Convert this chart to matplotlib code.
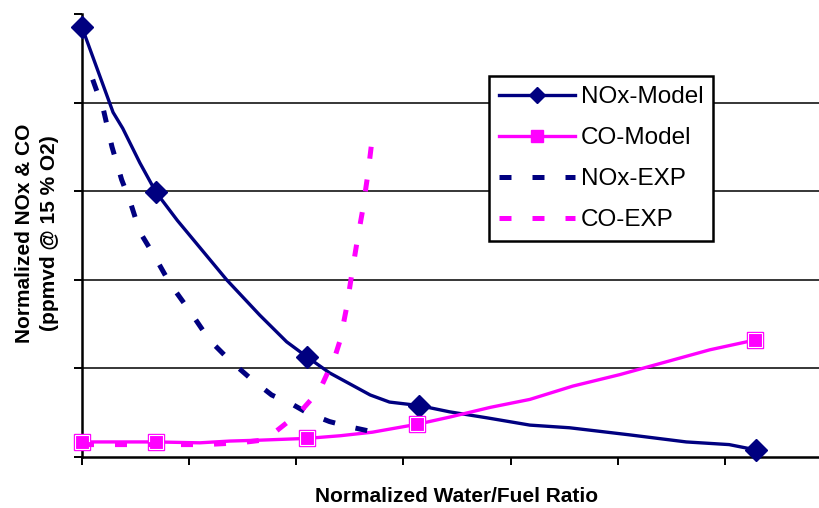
import matplotlib
matplotlib.use("Agg")
import matplotlib.pyplot as plt
from matplotlib.lines import Line2D

plt.rcParams['font.family'] = ['Liberation Sans', 'DejaVu Sans']

# ---------------- data (normalized units) ----------------
nox_model_x = [0.00, 0.29, 0.38, 0.54, 0.69, 0.89, 1.35, 1.66, 1.91, 2.10, 2.31, 2.69,
               2.87, 3.15, 3.43, 3.79, 4.18, 4.55, 5.11, 5.64, 6.04, 6.29]
nox_model_y = [4.85, 3.89, 3.71, 3.32, 2.99, 2.67, 2.00, 1.60, 1.30, 1.13, 0.95, 0.70,
               0.62, 0.58, 0.51, 0.44, 0.36, 0.33, 0.25, 0.17, 0.14, 0.08]
nox_model_markers = [0, 4, 9, 13, 21]

co_model_x = [0.00, 0.69, 1.10, 1.38, 1.66, 2.10, 2.41, 2.71, 3.13, 3.43, 3.81, 4.18,
              4.58, 5.02, 5.86, 6.28]
co_model_y = [0.17, 0.17, 0.16, 0.18, 0.19, 0.21, 0.24, 0.28, 0.37, 0.45, 0.56, 0.65,
              0.80, 0.93, 1.21, 1.32]
co_model_markers = [0, 1, 5, 8, 15]

nox_exp_x = [0.10, 0.20, 0.28, 0.37, 0.45, 0.54, 0.68, 0.82, 1.01, 1.19, 1.38, 1.57,
             1.77, 1.97, 2.10, 2.31, 2.50, 2.73]
nox_exp_y = [4.26, 3.92, 3.50, 3.13, 2.88, 2.54, 2.26, 1.96, 1.64, 1.32, 1.09, 0.89,
             0.70, 0.59, 0.50, 0.40, 0.34, 0.28]

co_exp_x = [0.00, 0.45, 1.15, 1.47, 1.68, 1.80, 2.03, 2.22, 2.36, 2.41, 2.47, 2.52,
            2.57, 2.62, 2.67, 2.71]
co_exp_y = [0.14, 0.14, 0.14, 0.16, 0.19, 0.28, 0.50, 0.76, 1.13, 1.32, 1.69, 2.08,
            2.45, 2.79, 3.21, 3.61]

series_labels = ['NOx-Model', 'CO-Model', 'NOx-EXP', 'CO-EXP']
x_label = 'Normalized Water/Fuel Ratio'
y_label = 'Normalized NOx & CO\n(ppmvd @ 15 % O2)'

NAVY = '#000080'
MAG = '#FF00FF'

W, H = 820, 508
fig = plt.figure(figsize=(W / 100, H / 100), dpi=100)
left, right, top, bottom = 82, 832, 14, 457
ax = fig.add_axes([left / W, 1 - bottom / H, (right - left) / W, (bottom - top) / H])
ax.set_xlim(0, 7)
ax.set_ylim(0, 5)

# model lines
ax.plot(nox_model_x, nox_model_y, color=NAVY, lw=2.4, marker='D', ms=11,
        markevery=nox_model_markers, mfc=NAVY, mec=NAVY, clip_on=False, zorder=3)
ax.plot(co_model_x, co_model_y, color=MAG, lw=2.4, marker='s', ms=12,
        markevery=co_model_markers, mfc=MAG, mec=MAG, clip_on=False, zorder=4)
ax.plot([co_model_x[i] for i in co_model_markers], [co_model_y[i] for i in co_model_markers],
        ls='none', marker='s', ms=9.5, mfc='none', mec='white', mew=0.8,
        clip_on=False, zorder=4.1)
# experimental lines
ax.plot(nox_exp_x, nox_exp_y, color=NAVY, lw=3.6, ls=(0, (2.4, 4.2)), zorder=5)
ax.plot(co_exp_x, co_exp_y, color=MAG, lw=3.6, ls=(0, (2.4, 4.2)), zorder=6)

# axes styling
ax.set_xticks(range(0, 8))
ax.set_yticks(range(0, 6))
ax.set_xticklabels([])
ax.set_yticklabels([])
ax.tick_params(direction='out', length=6, width=1.4, color='black')
for s in ['top', 'right']:
    ax.spines[s].set_visible(False)
for s in ['left', 'bottom']:
    ax.spines[s].set_linewidth(1.8)
    ax.spines[s].set_zorder(2)
ax.yaxis.grid(True, color='black', lw=1.1, zorder=0)
ax.set_axisbelow(True)
ax.yaxis.get_gridlines()[-1].set_visible(False)
ax.yaxis.get_gridlines()[0].set_visible(False)

# labels
fig.text(457 / W, 1 - 497 / H, x_label, ha='center', va='center',
         fontsize=15, fontweight='bold')
fig.text(37 / W, 1 - 233 / H, y_label, ha='center', va='center', rotation=90,
         fontsize=15, fontweight='bold', multialignment='center', linespacing=1.35)

# legend
handles = [
    Line2D([], [], color=NAVY, lw=2.4, marker='D', ms=8, mfc=NAVY, mec=NAVY),
    Line2D([], [], color=MAG, lw=2.4, marker='s', ms=9, mfc=MAG, mec=MAG),
    Line2D([], [], color=NAVY, lw=3.6, ls=(0, (2.4, 4.2))),
    Line2D([], [], color=MAG, lw=3.6, ls=(0, (2.4, 4.2))),
]
leg = fig.legend(handles, series_labels, loc='upper left',
                 bbox_to_anchor=(489 / W, 1 - 76 / H), borderaxespad=0,
                 fontsize=17.5, frameon=True, fancybox=False, shadow=False,
                 handlelength=3.1, handletextpad=0.25, labelspacing=0.78,
                 borderpad=0.42, framealpha=1, edgecolor='black')
leg.get_frame().set_linewidth(1.8)

fig.savefig('out.png', dpi=100)
